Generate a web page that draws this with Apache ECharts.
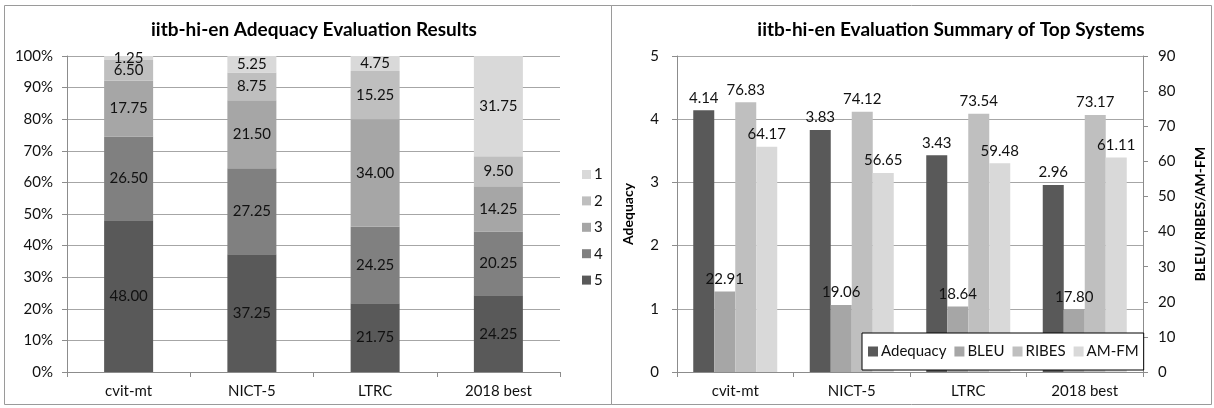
<!DOCTYPE html>
<html>
<head>
<meta charset="utf-8">
<script src="https://cdn.jsdelivr.net/npm/echarts@6/dist/echarts.min.js"></script>
<style>
html,body{margin:0;padding:0;background:#fff;}
#c{width:1214px;height:408px;}
</style>
</head>
<body>
<div id="c"></div>
<script>
// ---- data ----
var categories = ['cvit-mt', 'NICT-5', 'LTRC', '2018 best'];
// left chart: adequacy score distribution (%)
var score5 = [48.00, 37.25, 21.75, 24.25];
var score4 = [26.50, 27.25, 24.25, 20.25];
var score3 = [17.75, 21.50, 34.00, 14.25];
var score2 = [6.50, 8.75, 15.25, 9.50];
var score1 = [1.25, 5.25, 4.75, 31.75];
var pctTicks = [0, 100, 10];
// right chart: evaluation summary
var adequacy = [4.14, 3.83, 3.43, 2.96];
var bleu = [22.91, 19.06, 18.64, 17.80];
var ribes = [76.83, 74.12, 73.54, 73.17];
var amfm = [64.17, 56.65, 59.48, 61.11];
var leftTicks = [0, 5, 1];
var rightTicks = [0, 90, 10];

var FONT = 'Lato, "Open Sans", sans-serif';
var TXT = '#111';
var GRID = '#a6a6a6';
var AXIS = '#8c8c8c';

var chart = echarts.init(document.getElementById('c'), null, {renderer: 'canvas'});

function stackSeries(name, data, color) {
  return {
    name: name, type: 'bar', stack: 'adq', xAxisIndex: 0, yAxisIndex: 0,
    data: data, barWidth: 49,
    itemStyle: {color: color},
    label: {show: true, position: 'inside', color: TXT, fontFamily: FONT, fontSize: 15,
      formatter: function (p) { return p.value.toFixed(2); }},
    emphasis: {disabled: true}
  };
}
function sideBar(name, data, color, yIdx) {
  return {
    name: name, type: 'bar', xAxisIndex: 1, yAxisIndex: yIdx,
    data: data, barWidth: 21, barGap: '0%',
    itemStyle: {color: color},
    label: {show: true, position: 'top', distance: 5, color: TXT, fontFamily: FONT, fontSize: 15,
      formatter: function (p) { return p.value.toFixed(2); }},
    emphasis: {disabled: true}
  };
}

var axisLbl = {color: TXT, fontFamily: FONT, fontSize: 15};

var option = {
  animation: false,
  backgroundColor: '#fff',
  textStyle: {fontFamily: FONT},
  title: [
    {text: 'iitb-hi-en Adequacy Evaluation Results', left: 309, top: 15, textAlign: 'center',
      textStyle: {fontFamily: FONT, fontSize: 19, fontWeight: 'bold', color: '#000'}},
    {text: 'iitb-hi-en Evaluation Summary of Top Systems', left: 946, top: 15, textAlign: 'center',
      textStyle: {fontFamily: FONT, fontSize: 19, fontWeight: 'bold', color: '#000'}}
  ],
  legend: [
    {data: ['1', '2', '3', '4', '5'], orient: 'vertical', left: 577, top: 162,
      itemWidth: 9, itemHeight: 9, itemGap: 11.4, icon: 'rect',
      textStyle: {fontFamily: FONT, fontSize: 15, color: TXT, padding: [0, 0, 0, -2]},
      selectedMode: false},
    {data: ['Adequacy', 'BLEU', 'RIBES', 'AM-FM'], orient: 'horizontal', left: 862, top: 333,
      itemWidth: 10, itemHeight: 10, itemGap: 8, icon: 'rect',
      padding: [11, 5, 11, 6],
      backgroundColor: '#fff', borderColor: '#000', borderWidth: 1,
      textStyle: {fontFamily: FONT, fontSize: 15, color: TXT, padding: [0, 0, 0, -2]},
      selectedMode: false}
  ],
  grid: [
    {left: 67, right: 1214 - 560, top: 56, bottom: 408 - 372},
    {left: 677, right: 1214 - 1143, top: 56, bottom: 408 - 372}
  ],
  xAxis: [
    {type: 'category', gridIndex: 0, data: categories,
      axisLine: {lineStyle: {color: AXIS}}, axisTick: {show: true, length: 5, lineStyle: {color: AXIS}},
      axisLabel: Object.assign({margin: 12}, axisLbl)},
    {type: 'category', gridIndex: 1, data: categories,
      axisLine: {lineStyle: {color: AXIS}}, axisTick: {show: true, length: 5, lineStyle: {color: AXIS}},
      axisLabel: Object.assign({margin: 12}, axisLbl)}
  ],
  yAxis: [
    {type: 'value', gridIndex: 0, min: pctTicks[0], max: pctTicks[1], interval: pctTicks[2],
      axisLine: {show: true, lineStyle: {color: AXIS}},
      axisTick: {show: true, length: 5, lineStyle: {color: AXIS}},
      splitLine: {lineStyle: {color: GRID}},
      axisLabel: Object.assign({margin: 14, formatter: '{value}%'}, axisLbl)},
    {type: 'value', gridIndex: 1, min: leftTicks[0], max: leftTicks[1], interval: leftTicks[2],
      name: 'Adequacy', nameLocation: 'middle', nameRotate: 90, nameGap: 42,
      nameTextStyle: {fontFamily: FONT, fontSize: 14, fontWeight: 'bold', color: '#000'},
      axisLine: {show: true, lineStyle: {color: AXIS}},
      axisTick: {show: true, length: 5, lineStyle: {color: AXIS}},
      splitLine: {lineStyle: {color: GRID}},
      axisLabel: Object.assign({margin: 18}, axisLbl)},
    {type: 'value', gridIndex: 1, position: 'right', min: rightTicks[0], max: rightTicks[1], interval: rightTicks[2],
      name: 'BLEU/RIBES/AM-FM', nameLocation: 'middle', nameRotate: 90, nameGap: 50,
      nameTextStyle: {fontFamily: FONT, fontSize: 14, fontWeight: 'bold', color: '#000'},
      axisLine: {show: true, lineStyle: {color: AXIS}},
      axisTick: {show: true, length: 5, lineStyle: {color: AXIS}},
      splitLine: {show: false},
      axisLabel: Object.assign({margin: 15}, axisLbl)}
  ],
  series: [
    stackSeries('5', score5, '#595959'),
    stackSeries('4', score4, '#808080'),
    stackSeries('3', score3, '#a6a6a6'),
    stackSeries('2', score2, '#bfbfbf'),
    stackSeries('1', score1, '#d9d9d9'),
    sideBar('Adequacy', adequacy, '#595959', 1),
    sideBar('BLEU', bleu, '#a6a6a6', 2),
    sideBar('RIBES', ribes, '#bfbfbf', 2),
    sideBar('AM-FM', amfm, '#d9d9d9', 2)
  ],
  graphic: [
    {type: 'rect', shape: {x: 4.5, y: 5.5, width: 607, height: 399}, style: {fill: 'none', stroke: '#9a9a9a', lineWidth: 1}, silent: true, z: -1},
    {type: 'rect', shape: {x: 611.5, y: 5.5, width: 600, height: 399}, style: {fill: 'none', stroke: '#9a9a9a', lineWidth: 1}, silent: true, z: -1}
  ]
};
chart.setOption(option);
</script>
</body>
</html>
